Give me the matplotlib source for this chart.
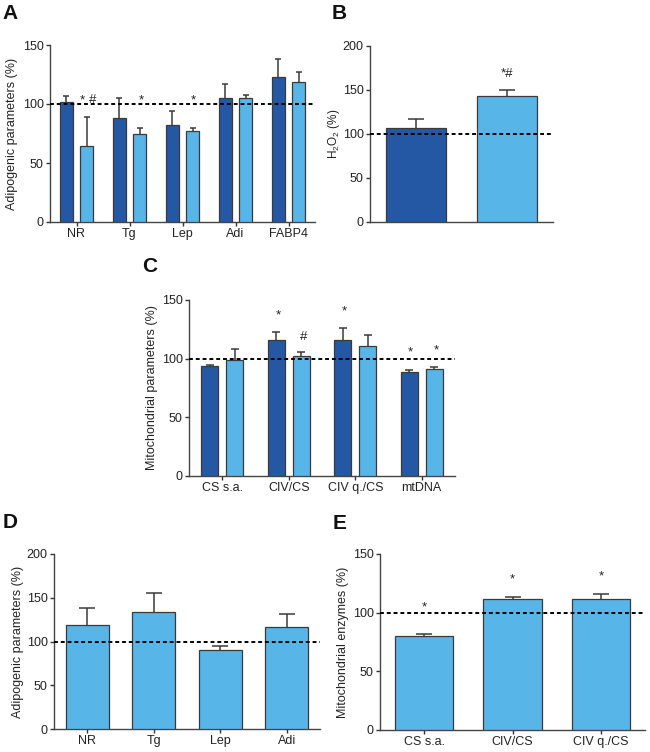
import matplotlib
matplotlib.use("Agg")
import matplotlib.pyplot as plt
import numpy as np

plt.rcParams['font.family'] = ['Liberation Sans', 'DejaVu Sans']
plt.rcParams['mathtext.fontset'] = 'custom'
plt.rcParams['mathtext.rm'] = 'Liberation Sans'
plt.rcParams['mathtext.it'] = 'Liberation Sans:italic'
plt.rcParams['text.color'] = '#222222'
plt.rcParams['axes.labelcolor'] = '#222222'
plt.rcParams['xtick.color'] = '#333333'
plt.rcParams['ytick.color'] = '#333333'
plt.rcParams['xtick.labelcolor'] = '#222222'
plt.rcParams['ytick.labelcolor'] = '#222222'

# ---------------- data ----------------
a_cats = ["NR", "Tg", "Lep", "Adi", "FABP4"]
a_dark = [102, 88, 82, 105, 123]
a_dark_err = [5, 17, 12, 12, 15]
a_light = [64, 75, 77, 105, 119]
a_light_err = [25, 5, 3, 3, 8]

b_vals = [107, 143]
b_err = [10, 7]

c_cats = ["CS s.a.", "CIV/CS", "CIV q./CS", "mtDNA"]
c_dark = [93.5, 116, 116, 89]
c_dark_err = [1, 7, 10, 1.5]
c_light = [99, 102.5, 111, 91]
c_light_err = [9, 3, 9, 1.5]

d_cats = ["NR", "Tg", "Lep", "Adi"]
d_vals = [119, 134, 90, 117]
d_err = [19, 22, 4.5, 15]

e_cats = ["CS s.a.", "CIV/CS", "CIV q./CS"]
e_vals = [80, 112, 112]
e_err = [2, 1.6, 4]

DARK = '#2458A5'
LIGHT = '#58B5E7'
EDGE = '#3a3a3a'
W, H = 650, 752

fig = plt.figure(figsize=(6.5, 7.52), dpi=100)

def add_ax(l, r, t, b):
    return fig.add_axes([l / W, 1 - b / H, (r - l) / W, (b - t) / H])

def style(ax, ymax, step, ylabel, label_x_px, lsize=9):
    ax.set_ylim(0, ymax)
    ax.set_yticks(np.arange(0, ymax + 1, step))
    for s in ['top', 'right']:
        ax.spines[s].set_visible(False)
    for s in ['left', 'bottom']:
        ax.spines[s].set_color('#444444')
        ax.spines[s].set_linewidth(1.0)
    ax.tick_params(axis='both', length=3, width=1, labelsize=9, pad=1.5)
    ax.set_ylabel(ylabel, fontsize=lsize, va='center')
    ax.yaxis.set_label_coords(label_x_px / W, 0.5,
                              transform=matplotlib.transforms.blended_transform_factory(fig.transFigure, ax.transAxes))
    ax.axhline(100, color='black', lw=1.4, linestyle=(0, (2.0, 1.5)), zorder=5, clip_on=False)

def bars(ax, x, vals, errs, color, width, cap):
    ax.bar(x, vals, width=width, color=color, edgecolor=EDGE, linewidth=0.9, zorder=3)
    _, caps, _ = ax.errorbar(x, vals, yerr=[np.zeros(len(vals)), errs], fmt='none', ecolor=EDGE,
                             elinewidth=1.1, capsize=cap, capthick=1.1, zorder=2)
    for cl in caps:
        if np.allclose(cl.get_ydata(), vals):
            cl.set_visible(False)

def star(ax, x, y, s, size=9.5):
    ax.text(x, y, s, ha='center', va='baseline', fontsize=size, color='#222222', zorder=6)

off = 0.19
# ---------------- A ----------------
axA = add_ax(50, 315, 45, 222)
xa = np.arange(len(a_cats))
bars(axA, xa - off, a_dark, a_dark_err, DARK, 0.25, 2.5)
bars(axA, xa + off, a_light, a_light_err, LIGHT, 0.25, 2.5)
axA.set_xlim(-0.5, len(a_cats) - 0.5)
axA.set_xticks(xa)
axA.set_xticklabels(a_cats)
style(axA, 150, 50, "Adipogenic parameters (%)", 12)
star(axA, 0.10, 100.5, "*")
star(axA, 0.31, 101, "#")
star(axA, 1.22, 100.5, "*")
star(axA, 2.20, 100.5, "*")

# ---------------- B ----------------
axB = add_ax(370, 553, 46, 222)
xb = np.arange(len(b_vals))
bars(axB, xb, b_vals, b_err, [DARK, LIGHT], 0.656, 6)
axB.set_xlim(-0.5, 1.5)
axB.set_xticks([])
style(axB, 200, 50, r"H$_\mathregular{2}$O$_\mathregular{2}$ (%)", 334, lsize=8.5)
star(axB, 1.0, 165, "*#")

# ---------------- C ----------------
axC = add_ax(189, 455, 300, 476)
xc = np.arange(len(c_cats))
bars(axC, xc - off, c_dark, c_dark_err, DARK, 0.256, 3)
bars(axC, xc + off, c_light, c_light_err, LIGHT, 0.256, 3)
axC.set_xlim(-0.5, len(c_cats) - 0.5)
axC.set_xticks(xc)
axC.set_xticklabels(c_cats)
style(axC, 150, 50, "Mitochondrial parameters (%)", 152)
star(axC, 0.84, 134, "*")
star(axC, 1.23, 115.5, "#")
star(axC, 1.84, 138, "*")
star(axC, 2.83, 103, "*")
star(axC, 3.22, 104.5, "*")

# ---------------- D ----------------
axD = add_ax(54, 320, 554, 729)
xd = np.arange(len(d_cats))
bars(axD, xd, d_vals, d_err, LIGHT, 0.65, 6)
axD.set_xlim(-0.5, len(d_cats) - 0.5)
axD.set_xticks(xd)
axD.set_xticklabels(d_cats)
style(axD, 200, 50, "Adipogenic parameters (%)", 18)

# ---------------- E ----------------
axE = add_ax(380, 645, 554, 730)
xe = np.arange(len(e_cats))
bars(axE, xe, e_vals, e_err, LIGHT, 0.66, 6)
axE.set_xlim(-0.5, len(e_cats) - 0.5)
axE.set_xticks(xe)
axE.set_xticklabels(e_cats)
style(axE, 150, 50, "Mitochondrial enzymes (%)", 343)
star(axE, 0, 102, "*")
star(axE, 1, 126, "*")
star(axE, 2, 128.5, "*")

# ---------------- panel letters ----------------
for letter, xp, yp in [("A", 2, 4), ("B", 332, 4), ("C", 142, 257), ("D", 3, 513), ("E", 333, 514)]:
    fig.text(xp / W, 1 - yp / H, letter, fontsize=15, fontweight='bold', ha='left', va='top', color='#111111')

fig.savefig("out.png", dpi=100)
